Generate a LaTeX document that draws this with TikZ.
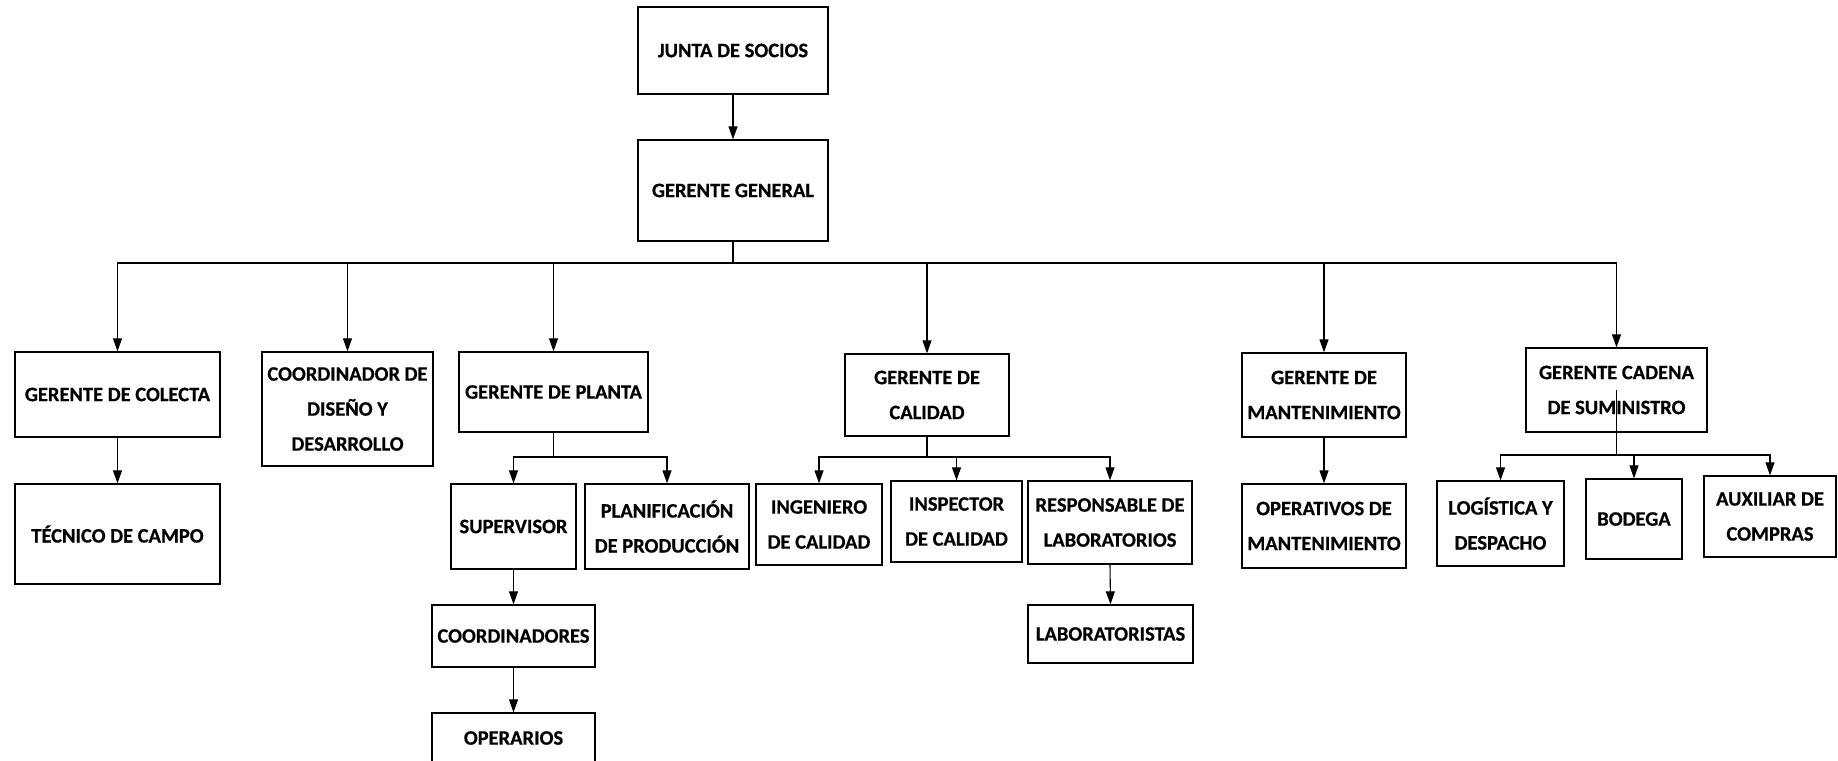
\documentclass[tikz,border=0pt]{standalone}
\usepackage{fontspec}
\setmainfont{Carlito}[FakeBold=0.6]
\usetikzlibrary{arrows.meta}

\begin{document}
\begin{tikzpicture}
[x=1pt,y=-1pt,
  boxdecorate/.style={shape=rectangle,draw,line width=1.3pt,inner sep=2pt,align=center,font=\fontsize{20.5}{35}\selectfont\bfseries},%
  linkdecorate/.style={-{Triangle[length=13pt,width=9pt]},line width=1.1pt}]
\useasboundingbox (0,0) rectangle (1838,760);
%% bus levels
\coordinate (busgeneral) at (0,263);
\coordinate (busplanta) at (0,457);
\coordinate (buscalidad) at (0,457);
\coordinate (bussuministro) at (0,455);
%% boxes
\foreach \nodename/\x/\y/\w/\h/\nodetext in {
  junta/733/50.5/190/87/{JUNTA DE SOCIOS},
  gg/733/190.5/190/101/{GERENTE GENERAL},
  colecta/117.5/394.5/205/85/{GERENTE DE COLECTA},
  diseno/347.5/409/171/114/{COORDINADOR DE\\DISEÑO Y\\DESARROLLO},
  planta/553.5/392/189/80/{GERENTE DE PLANTA},
  calidad/927/395/164/82/{GERENTE DE\\CALIDAD},
  mant/1324/395/164/84/{GERENTE DE\\MANTENIMIENTO},
  cadena/1616.5/390/181/84/{GERENTE CADENA\\DE SUMINISTRO},
  tecnico/117.5/534/205/100/{TÉCNICO DE CAMPO},
  supervisor/513.5/526.5/125/85/{SUPERVISOR},
  planif/667/526.5/164/85/{PLANIFICACIÓN\\DE PRODUCCIÓN},
  coordinadores/513.5/636/163/62/{COORDINADORES},
  operarios/513.5/738/163/50/{OPERARIOS},
  ingeniero/819/524.5/126/81/{INGENIERO\\DE CALIDAD},
  inspector/956.5/521.5/131/81/{INSPECTOR\\DE CALIDAD},
  responsable/1110/522.5/164/83/{RESPONSABLE DE\\LABORATORIOS},
  laboratoristas/1110.5/634/165/58/{LABORATORISTAS},
  operativos/1324/526/164/84/{OPERATIVOS DE\\MANTENIMIENTO},
  logistica/1500.5/523.5/127/85/{LOGÍSTICA Y\\DESPACHO},
  bodega/1634/519/96/80/{BODEGA},
  auxiliar/1770/516.5/132/81/{AUXILIAR DE\\COMPRAS}} {
  \node (\nodename) at (\x,\y) [boxdecorate,minimum width=\w pt,minimum height=\h pt] {\nodetext};
}
%% straight links
\path
\foreach \startnode/\endnode in {junta/gg, colecta/tecnico, supervisor/coordinadores,
  coordinadores/operarios, responsable/laboratoristas, mant/operativos} {
  (\startnode.south) edge[linkdecorate] (\endnode.north)
};
%% elbow links through the buses
\foreach \startnode/\endnode/\bus in {gg.south/colecta/busgeneral,
  gg.south/diseno/busgeneral, gg.south/planta/busgeneral, gg.south/calidad/busgeneral,
  gg.south/mant/busgeneral, gg.south/cadena/busgeneral,
  planta.south/supervisor/busplanta, planta.south/planif/busplanta,
  calidad.south/ingeniero/buscalidad, calidad.south/inspector/buscalidad,
  calidad.south/responsable/buscalidad,
  cadena.center/logistica/bussuministro, cadena.center/bodega/bussuministro,
  cadena.center/auxiliar/bussuministro} {
  \draw[linkdecorate] (\startnode) -- (\startnode |- \bus) -| (\endnode.north);
}
\end{tikzpicture}
\end{document}
